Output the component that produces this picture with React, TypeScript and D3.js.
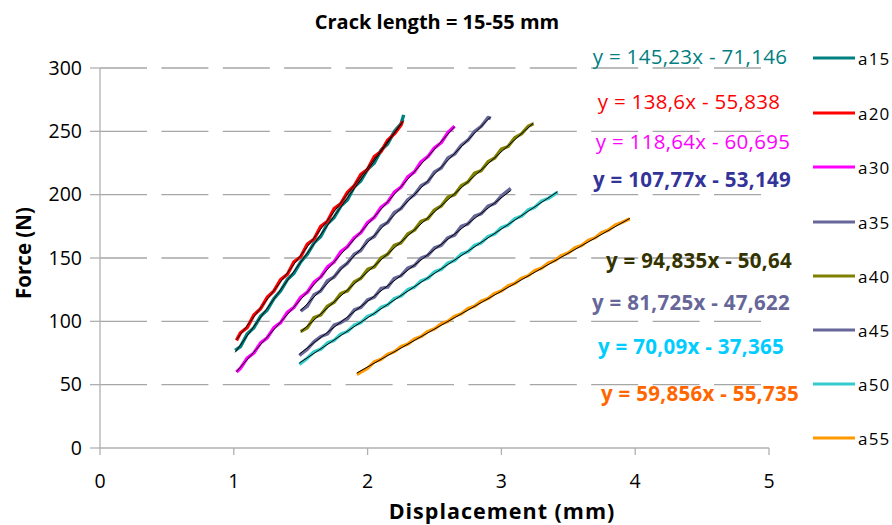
import { useEffect, useRef } from 'react';
import * as d3 from 'd3';

type Pt = [number, number];

const seriesNames = ['a15', 'a20', 'a30', 'a35', 'a40', 'a45', 'a50', 'a55'];
const seriesColors = ['#008080', '#ff0000', '#ff00ff', '#666699', '#808000', '#666699', '#33cccc', '#ff9900'];

// trendline coefficients shown on the chart
const slopes = [145.23, 138.6, 118.64, 107.77, 94.835, 81.725, 70.09, 59.856];
const intercepts = [-71.146, -55.838, -60.695, -53.149, -50.64, -47.622, -37.365, -55.735];
const eqColors = ['#008080', '#ff0000', '#ff00ff', '#333399', '#333300', '#666699', '#00ccff', '#ff6600'];
const eqBold = [false, false, false, true, true, true, true, true];

const a15: Pt[] = [
  [1.01, 77], [1.05, 80], [1.1, 90], [1.15, 95], [1.2, 104], [1.25, 109], [1.3, 118], [1.35, 124],
  [1.4, 133], [1.45, 138], [1.5, 147], [1.55, 153], [1.6, 162], [1.65, 167], [1.7, 177], [1.75, 182],
  [1.8, 191], [1.85, 196], [1.9, 206], [1.95, 211], [2.0, 220], [2.05, 225], [2.1, 235], [2.15, 240],
  [2.2, 250], [2.25, 256], [2.27, 263],
];
const a20: Pt[] = [
  [1.02, 85], [1.05, 91], [1.1, 95], [1.15, 105], [1.2, 110], [1.25, 119], [1.3, 124], [1.35, 133],
  [1.4, 137], [1.45, 147], [1.5, 151], [1.55, 161], [1.6, 165], [1.65, 175], [1.7, 179], [1.75, 189],
  [1.8, 193], [1.85, 202], [1.9, 207], [1.95, 216], [2.0, 220], [2.05, 230], [2.1, 234], [2.15, 243],
  [2.2, 248], [2.25, 255], [2.26, 258],
];
const a30: Pt[] = [
  [1.02, 60], [1.05, 63], [1.1, 71], [1.15, 75], [1.2, 83], [1.25, 87], [1.3, 95], [1.35, 99],
  [1.4, 107], [1.45, 111], [1.5, 119], [1.55, 123], [1.6, 131], [1.65, 135], [1.7, 143], [1.75, 147],
  [1.8, 155], [1.85, 159], [1.9, 166], [1.95, 170], [2.0, 178], [2.05, 182], [2.1, 190], [2.15, 194],
  [2.2, 202], [2.25, 206], [2.3, 214], [2.35, 218], [2.4, 226], [2.45, 230], [2.5, 237], [2.55, 241],
  [2.6, 249], [2.65, 254],
];
const a35: Pt[] = [
  [1.5, 108], [1.55, 112], [1.6, 121], [1.65, 124], [1.7, 132], [1.75, 135], [1.8, 142], [1.85, 146],
  [1.9, 153], [1.95, 156], [2.0, 164], [2.05, 167], [2.1, 175], [2.15, 178], [2.2, 186], [2.25, 189],
  [2.3, 196], [2.35, 200], [2.4, 207], [2.45, 210], [2.5, 218], [2.55, 221], [2.6, 229], [2.65, 232],
  [2.7, 239], [2.75, 243], [2.8, 250], [2.85, 254], [2.9, 261], [2.92, 260],
];
const a40: Pt[] = [
  [1.5, 92], [1.55, 95], [1.6, 103], [1.65, 105], [1.7, 112], [1.75, 115], [1.8, 122], [1.85, 124],
  [1.9, 131], [1.95, 134], [2.0, 141], [2.05, 143], [2.1, 150], [2.15, 153], [2.2, 160], [2.25, 162],
  [2.3, 169], [2.35, 172], [2.4, 179], [2.45, 181], [2.5, 188], [2.55, 191], [2.6, 198], [2.65, 200],
  [2.7, 207], [2.75, 210], [2.8, 217], [2.85, 219], [2.9, 226], [2.95, 229], [3.0, 236], [3.05, 238],
  [3.1, 245], [3.15, 248], [3.2, 254], [3.24, 256],
];
const a45: Pt[] = [
  [1.49, 73], [1.55, 78], [1.6, 84], [1.65, 88], [1.7, 90], [1.75, 97], [1.8, 99], [1.85, 102],
  [1.9, 109], [1.95, 111], [2.0, 117], [2.05, 119], [2.1, 126], [2.15, 127], [2.2, 134], [2.25, 136],
  [2.3, 142], [2.35, 144], [2.4, 150], [2.45, 152], [2.5, 158], [2.55, 160], [2.6, 166], [2.65, 168],
  [2.7, 175], [2.75, 177], [2.8, 183], [2.85, 185], [2.9, 191], [2.95, 193], [3.0, 199], [3.07, 205],
];
const a50: Pt[] = [
  [1.49, 66], [1.55, 71], [1.6, 76], [1.65, 78], [1.7, 83], [1.75, 85], [1.8, 90], [1.85, 92],
  [1.9, 97], [1.95, 99], [2.0, 104], [2.05, 106], [2.1, 111], [2.15, 113], [2.2, 118], [2.25, 120],
  [2.3, 125], [2.35, 127], [2.4, 132], [2.45, 134], [2.5, 139], [2.55, 141], [2.6, 146], [2.65, 148],
  [2.7, 153], [2.75, 155], [2.8, 160], [2.85, 162], [2.9, 167], [2.95, 169], [3.0, 174], [3.05, 176],
  [3.1, 181], [3.15, 183], [3.2, 188], [3.25, 190], [3.3, 195], [3.35, 197], [3.42, 202],
];
const a55: Pt[] = [
  [1.92, 58], [1.95, 60], [2.0, 63], [2.05, 68], [2.1, 70], [2.15, 74], [2.2, 76], [2.25, 80],
  [2.3, 82], [2.35, 86], [2.4, 88], [2.45, 92], [2.5, 94], [2.55, 98], [2.6, 100], [2.65, 104],
  [2.7, 106], [2.75, 110], [2.8, 112], [2.85, 116], [2.9, 118], [2.95, 122], [3.0, 124], [3.05, 128],
  [3.1, 130], [3.15, 134], [3.2, 136], [3.25, 140], [3.3, 142], [3.35, 146], [3.4, 148], [3.45, 152],
  [3.5, 154], [3.55, 158], [3.6, 160], [3.65, 164], [3.7, 166], [3.75, 170], [3.8, 172], [3.85, 176],
  [3.9, 178], [3.96, 181],
];

const seriesData = [a15, a20, a30, a35, a40, a45, a50, a55];
const xTicks = [0, 1, 2, 3, 4, 5];
const yTicks = [0, 50, 100, 150, 200, 250, 300];

const W = 892;
const H = 525;
const FONT = '"Open Sans", "Liberation Sans", sans-serif';

// label placement (px)
const eqPos = [
  [690, 57], [689, 102], [693, 142], [692, 180], [699, 261], [691, 303], [691, 347], [700, 394],
];
const legendY = [58, 113, 167, 222, 276, 330, 384, 438];

const fmt = (v: number) => String(v).replace('.', ',');

export default function App() {
  const svgRef = useRef<SVGSVGElement>(null);

  useEffect(() => {
    if (!svgRef.current) return;
    const svg = d3.select(svgRef.current);
    svg.selectAll('*').remove();

    const x = d3.scaleLinear().domain([0, 5]).range([100, 769]);
    const y = d3.scaleLinear().domain([0, 300]).range([448, 68]);

    // gridlines (dashed)
    svg.append('g')
      .selectAll('line')
      .data(yTicks.filter((t) => t > 0))
      .enter()
      .append('line')
      .attr('x1', x(0))
      .attr('x2', x(5))
      .attr('y1', (d) => y(d))
      .attr('y2', (d) => y(d))
      .attr('stroke', '#a6a6a6')
      .attr('stroke-width', 1.3)
      .attr('stroke-dasharray', '47,14.4');

    // axes
    const axisColor = '#b0b0b0';
    svg.append('line')
      .attr('x1', x(0)).attr('x2', x(0)).attr('y1', y(300)).attr('y2', y(0))
      .attr('stroke', axisColor).attr('stroke-width', 1.3);
    svg.append('line')
      .attr('x1', x(0)).attr('x2', x(5)).attr('y1', y(0)).attr('y2', y(0))
      .attr('stroke', axisColor).attr('stroke-width', 1.3);

    svg.append('g')
      .selectAll('line')
      .data(yTicks)
      .enter()
      .append('line')
      .attr('x1', x(0) - 10).attr('x2', x(0))
      .attr('y1', (d) => y(d)).attr('y2', (d) => y(d))
      .attr('stroke', axisColor).attr('stroke-width', 1.3);

    svg.append('g')
      .selectAll('line')
      .data(xTicks)
      .enter()
      .append('line')
      .attr('x1', (d) => x(d)).attr('x2', (d) => x(d))
      .attr('y1', y(0)).attr('y2', y(0) + 7)
      .attr('stroke', axisColor).attr('stroke-width', 1.3);

    svg.append('g')
      .selectAll('text')
      .data(yTicks)
      .enter()
      .append('text')
      .attr('x', 82)
      .attr('y', (d) => y(d))
      .attr('dy', '0.35em')
      .attr('text-anchor', 'end')
      .style('font-family', FONT)
      .style('font-size', '19.5px')
      .style('fill', '#000')
      .text((d) => d);

    svg.append('g')
      .selectAll('text')
      .data(xTicks)
      .enter()
      .append('text')
      .attr('x', (d) => x(d))
      .attr('y', 481)
      .attr('dy', '0.35em')
      .attr('text-anchor', 'middle')
      .style('font-family', FONT)
      .style('font-size', '19.5px')
      .style('fill', '#000')
      .text((d) => d);

    // titles
    svg.append('text')
      .attr('x', 437).attr('y', 22).attr('dy', '0.35em')
      .attr('text-anchor', 'middle')
      .style('font-family', FONT).style('font-size', '20px').style('font-weight', 700)
      .text('Crack length = 15-55 mm');

    svg.append('text')
      .attr('x', 502).attr('y', 511).attr('dy', '0.35em')
      .attr('text-anchor', 'middle')
      .style('font-family', FONT).style('font-size', '21.5px').style('font-weight', 700)
      .style('letter-spacing', '1px')
      .text('Displacement (mm)');

    svg.append('text')
      .attr('transform', 'translate(24,253) rotate(-90)')
      .attr('dy', '0.35em')
      .attr('text-anchor', 'middle')
      .style('font-family', FONT).style('font-size', '20.5px').style('font-weight', 700)
      .text('Force (N)');

    // series + trendlines
    const line = d3.line<Pt>().x((d) => x(d[0])).y((d) => y(d[1]));

    seriesData.forEach((data, i) => {
      svg.append('path')
        .datum(data)
        .attr('fill', 'none')
        .attr('stroke', seriesColors[i])
        .attr('stroke-width', 3.4)
        .attr('stroke-linejoin', 'round')
        .attr('d', line);
    });

    seriesData.forEach((data, i) => {
      const [x0, x1] = d3.extent(data, (d) => d[0]) as [number, number];
      const trend: Pt[] = [
        [x0, slopes[i] * x0 + intercepts[i]],
        [x1, slopes[i] * x1 + intercepts[i]],
      ];
      svg.append('path')
        .datum(trend)
        .attr('fill', 'none')
        .attr('stroke', '#000')
        .attr('stroke-width', 1)
        .attr('d', line);
    });

    // trendline equations
    svg.append('g')
      .selectAll('text')
      .data(seriesNames)
      .enter()
      .append('text')
      .attr('x', (_d, i) => eqPos[i][0])
      .attr('y', (_d, i) => eqPos[i][1])
      .attr('dy', '0.35em')
      .attr('text-anchor', 'middle')
      .style('font-family', FONT)
      .style('font-size', '20.5px')
      .style('letter-spacing', '0.3px')
      .style('font-weight', (_d, i) => (eqBold[i] ? 700 : 400))
      .style('fill', (_d, i) => eqColors[i])
      .text((_d, i) => `y = ${fmt(slopes[i])}x - ${fmt(-intercepts[i])}`);

    // legend
    const legend = svg.append('g');
    seriesNames.forEach((name, i) => {
      legend.append('line')
        .attr('x1', 813).attr('x2', 855)
        .attr('y1', legendY[i]).attr('y2', legendY[i])
        .attr('stroke', seriesColors[i])
        .attr('stroke-width', 3);
      legend.append('text')
        .attr('x', 858).attr('y', legendY[i] + 1).attr('dy', '0.35em')
        .style('font-family', FONT).style('font-size', '17px')
        .style('letter-spacing', '1.2px')
        .style('fill', '#000')
        .text(name);
    });
  }, []);

  return (
    <svg
      ref={svgRef}
      width={W}
      height={H}
      style={{ position: 'absolute', left: 0, top: 0, background: '#fff' }}
    />
  );
}
